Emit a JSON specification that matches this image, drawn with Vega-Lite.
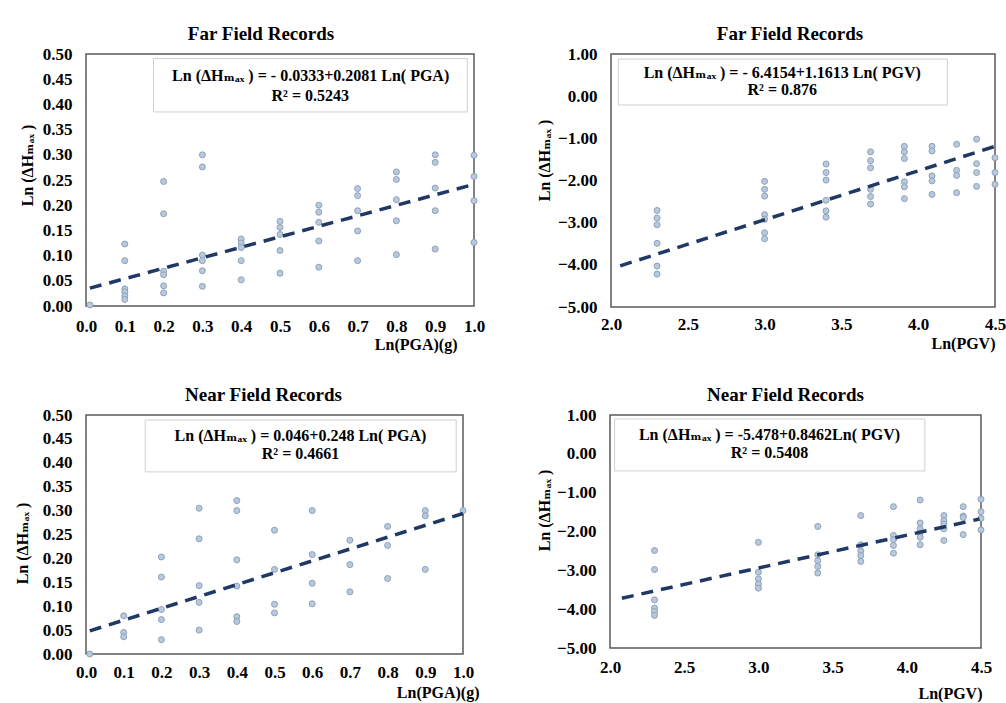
{
  "$schema": "https://vega.github.io/schema/vega-lite/v6.json",
  "background": "white",
  "padding": {"left": 13, "top": 24, "right": 0, "bottom": 0},
  "config": {
    "font": "Liberation Serif, DejaVu Serif, serif",
    "view": {"stroke": "#595959", "strokeWidth": 1.5},
    "axis": {"labelFont": "Liberation Serif, DejaVu Serif, serif", "labelFontWeight": "bold", "labelFontSize": 17, "labelColor": "black", "titleFont": "Liberation Serif, DejaVu Serif, serif", "titleFontWeight": "bold", "titleFontSize": 16, "titleColor": "black", "domain": false, "ticks": false, "grid": false, "labelPadding": 14, "labelFlush": false},
    "title": {"font": "Liberation Serif, DejaVu Serif, serif", "fontSize": 19, "fontWeight": "bold", "color": "black", "offset": 1}
  },
  "datasets": {
    "farPGA": [
      {"x": 0.01, "y": 0.002},
      {"x": 0.1, "y": 0.123}, {"x": 0.1, "y": 0.090}, {"x": 0.1, "y": 0.034}, {"x": 0.1, "y": 0.028}, {"x": 0.1, "y": 0.020}, {"x": 0.1, "y": 0.013},
      {"x": 0.2, "y": 0.247}, {"x": 0.2, "y": 0.183}, {"x": 0.2, "y": 0.069}, {"x": 0.2, "y": 0.062}, {"x": 0.2, "y": 0.040}, {"x": 0.2, "y": 0.026},
      {"x": 0.3, "y": 0.300}, {"x": 0.3, "y": 0.276}, {"x": 0.3, "y": 0.101}, {"x": 0.3, "y": 0.090}, {"x": 0.3, "y": 0.070}, {"x": 0.3, "y": 0.039},
      {"x": 0.4, "y": 0.133}, {"x": 0.4, "y": 0.125}, {"x": 0.4, "y": 0.116}, {"x": 0.4, "y": 0.090}, {"x": 0.4, "y": 0.052},
      {"x": 0.5, "y": 0.168}, {"x": 0.5, "y": 0.156}, {"x": 0.5, "y": 0.142}, {"x": 0.5, "y": 0.110}, {"x": 0.5, "y": 0.065},
      {"x": 0.6, "y": 0.200}, {"x": 0.6, "y": 0.186}, {"x": 0.6, "y": 0.166}, {"x": 0.6, "y": 0.129}, {"x": 0.6, "y": 0.077},
      {"x": 0.7, "y": 0.233}, {"x": 0.7, "y": 0.219}, {"x": 0.7, "y": 0.189}, {"x": 0.7, "y": 0.149}, {"x": 0.7, "y": 0.090},
      {"x": 0.8, "y": 0.266}, {"x": 0.8, "y": 0.251}, {"x": 0.8, "y": 0.211}, {"x": 0.8, "y": 0.169}, {"x": 0.8, "y": 0.102},
      {"x": 0.9, "y": 0.300}, {"x": 0.9, "y": 0.285}, {"x": 0.9, "y": 0.234}, {"x": 0.9, "y": 0.189}, {"x": 0.9, "y": 0.113},
      {"x": 1.0, "y": 0.299}, {"x": 1.0, "y": 0.257}, {"x": 1.0, "y": 0.209}, {"x": 1.0, "y": 0.126}
    ],
    "farPGV": [
      {"x": 2.3, "y": -2.71}, {"x": 2.3, "y": -2.89}, {"x": 2.3, "y": -3.05}, {"x": 2.3, "y": -3.49}, {"x": 2.3, "y": -4.03}, {"x": 2.3, "y": -4.22},
      {"x": 3.0, "y": -2.02}, {"x": 3.0, "y": -2.21}, {"x": 3.0, "y": -2.37}, {"x": 3.0, "y": -2.81}, {"x": 3.0, "y": -2.92}, {"x": 3.0, "y": -3.24}, {"x": 3.0, "y": -3.38},
      {"x": 3.4, "y": -1.61}, {"x": 3.4, "y": -1.81}, {"x": 3.4, "y": -1.99}, {"x": 3.4, "y": -2.47}, {"x": 3.4, "y": -2.72}, {"x": 3.4, "y": -2.87},
      {"x": 3.69, "y": -1.32}, {"x": 3.69, "y": -1.53}, {"x": 3.69, "y": -1.70}, {"x": 3.69, "y": -2.21}, {"x": 3.69, "y": -2.38}, {"x": 3.69, "y": -2.56},
      {"x": 3.91, "y": -1.19}, {"x": 3.91, "y": -1.32}, {"x": 3.91, "y": -1.48}, {"x": 3.91, "y": -2.03}, {"x": 3.91, "y": -2.15}, {"x": 3.91, "y": -2.43},
      {"x": 4.09, "y": -1.19}, {"x": 4.09, "y": -1.30}, {"x": 4.09, "y": -1.89}, {"x": 4.09, "y": -2.01}, {"x": 4.09, "y": -2.33},
      {"x": 4.25, "y": -1.14}, {"x": 4.25, "y": -1.76}, {"x": 4.25, "y": -1.88}, {"x": 4.25, "y": -2.29},
      {"x": 4.38, "y": -1.02}, {"x": 4.38, "y": -1.60}, {"x": 4.38, "y": -1.81}, {"x": 4.38, "y": -2.14},
      {"x": 4.5, "y": -1.46}, {"x": 4.5, "y": -1.81}, {"x": 4.5, "y": -2.09}
    ],
    "nearPGA": [
      {"x": 0.01, "y": 0.0},
      {"x": 0.1, "y": 0.080}, {"x": 0.1, "y": 0.045}, {"x": 0.1, "y": 0.036},
      {"x": 0.2, "y": 0.203}, {"x": 0.2, "y": 0.161}, {"x": 0.2, "y": 0.093}, {"x": 0.2, "y": 0.072}, {"x": 0.2, "y": 0.030},
      {"x": 0.3, "y": 0.305}, {"x": 0.3, "y": 0.241}, {"x": 0.3, "y": 0.143}, {"x": 0.3, "y": 0.108}, {"x": 0.3, "y": 0.050},
      {"x": 0.4, "y": 0.321}, {"x": 0.4, "y": 0.300}, {"x": 0.4, "y": 0.197}, {"x": 0.4, "y": 0.142}, {"x": 0.4, "y": 0.078}, {"x": 0.4, "y": 0.068},
      {"x": 0.5, "y": 0.259}, {"x": 0.5, "y": 0.177}, {"x": 0.5, "y": 0.104}, {"x": 0.5, "y": 0.086},
      {"x": 0.6, "y": 0.300}, {"x": 0.6, "y": 0.208}, {"x": 0.6, "y": 0.148}, {"x": 0.6, "y": 0.105},
      {"x": 0.7, "y": 0.238}, {"x": 0.7, "y": 0.187}, {"x": 0.7, "y": 0.130},
      {"x": 0.8, "y": 0.267}, {"x": 0.8, "y": 0.227}, {"x": 0.8, "y": 0.158},
      {"x": 0.9, "y": 0.300}, {"x": 0.9, "y": 0.289}, {"x": 0.9, "y": 0.177},
      {"x": 1.0, "y": 0.300}
    ],
    "nearPGV": [
      {"x": 2.3, "y": -2.49}, {"x": 2.3, "y": -2.98}, {"x": 2.3, "y": -3.76}, {"x": 2.3, "y": -3.97}, {"x": 2.3, "y": -4.06}, {"x": 2.3, "y": -4.16},
      {"x": 3.0, "y": -2.28}, {"x": 3.0, "y": -3.05}, {"x": 3.0, "y": -3.22}, {"x": 3.0, "y": -3.35}, {"x": 3.0, "y": -3.46},
      {"x": 3.4, "y": -1.87}, {"x": 3.4, "y": -2.60}, {"x": 3.4, "y": -2.75}, {"x": 3.4, "y": -2.90}, {"x": 3.4, "y": -3.07},
      {"x": 3.69, "y": -1.59}, {"x": 3.69, "y": -2.34}, {"x": 3.69, "y": -2.50}, {"x": 3.69, "y": -2.62}, {"x": 3.69, "y": -2.77},
      {"x": 3.91, "y": -1.36}, {"x": 3.91, "y": -2.10}, {"x": 3.91, "y": -2.21}, {"x": 3.91, "y": -2.36}, {"x": 3.91, "y": -2.56},
      {"x": 4.09, "y": -1.19}, {"x": 4.09, "y": -1.78}, {"x": 4.09, "y": -1.93}, {"x": 4.09, "y": -2.04}, {"x": 4.09, "y": -2.15}, {"x": 4.09, "y": -2.34},
      {"x": 4.25, "y": -1.59}, {"x": 4.25, "y": -1.72}, {"x": 4.25, "y": -1.81}, {"x": 4.25, "y": -1.93}, {"x": 4.25, "y": -2.23},
      {"x": 4.38, "y": -1.36}, {"x": 4.38, "y": -1.60}, {"x": 4.38, "y": -1.64}, {"x": 4.38, "y": -2.08},
      {"x": 4.5, "y": -1.17}, {"x": 4.5, "y": -1.49}, {"x": 4.5, "y": -1.66}, {"x": 4.5, "y": -1.96}
    ],
    "trendFarPGA": [{"x": 0.01, "y": 0.0354}, {"x": 1.0, "y": 0.2414}],
    "trendFarPGV": [{"x": 2.06, "y": -4.023}, {"x": 4.5, "y": -1.190}],
    "trendNearPGA": [{"x": 0.01, "y": 0.0485}, {"x": 1.0, "y": 0.294}],
    "trendNearPGV": [{"x": 2.08, "y": -3.718}, {"x": 4.49, "y": -1.679}],
    "boxFarPGA": [{"x": 0.174, "x2": 0.983, "y": 0.491, "y2": 0.385}],
    "boxFarPGV": [{"x": 2.048, "x2": 4.19, "y": 0.88, "y2": -0.21}],
    "boxNearPGA": [{"x": 0.157, "x2": 0.982, "y": 0.4895, "y2": 0.381}],
    "boxNearPGV": [{"x": 2.031, "x2": 4.122, "y": 0.897, "y2": -0.44}],
    "eqFarPGA": [{"x": 0.579, "y": 0.456, "label": "Ln  (ΔHₘₐₓ ) = - 0.0333+0.2081 Ln( PGA)"}, {"x": 0.578, "y": 0.416, "label": "R² = 0.5243"}],
    "eqFarPGV": [{"x": 3.115, "y": 0.56, "label": "Ln  (ΔHₘₐₓ ) = - 6.4154+1.1613 Ln( PGV)"}, {"x": 3.115, "y": 0.145, "label": "R² = 0.876"}],
    "eqNearPGA": [{"x": 0.569, "y": 0.457, "label": "Ln  (ΔHₘₐₓ ) =  0.046+0.248 Ln( PGA)"}, {"x": 0.569, "y": 0.418, "label": "R² = 0.4661"}],
    "eqNearPGV": [{"x": 3.075, "y": 0.486, "label": "Ln  (ΔHₘₐₓ ) =  -5.478+0.8462Ln( PGV)"}, {"x": 3.075, "y": 0.015, "label": "R² = 0.5408"}]
  },
  "columns": 2,
  "align": "none",
  "spacing": {"row": 32, "column": 49},
  "concat": [
    {
      "width": 388, "height": 252,
      "title": {"text": "Far Field Records", "dx": -19},
      "encoding": {
        "x": {"field": "x", "type": "quantitative", "scale": {"domain": [0, 1], "nice": false, "zero": false}, "axis": {"title": "Ln(PGA)(g)", "values": [0, 0.1, 0.2, 0.3, 0.4, 0.5, 0.6, 0.7, 0.8, 0.9, 1.0], "format": ".1f", "labelPadding": 12, "titleAlign": "right", "titleX": 371, "titlePadding": 2}},
        "y": {"field": "y", "type": "quantitative", "scale": {"domain": [0, 0.5], "nice": false, "zero": false}, "axis": {"title": "Ln  (ΔHₘₐₓ )", "values": [0, 0.05, 0.1, 0.15, 0.2, 0.25, 0.3, 0.35, 0.4, 0.45, 0.5], "format": ".2f", "titlePadding": 7, "titleY": 111}}
      },
      "layer": [
        {"data": {"name": "boxFarPGA"}, "mark": {"type": "rect", "fill": "white", "stroke": "#d0d0d0", "strokeWidth": 1}, "encoding": {"x2": {"field": "x2"}, "y2": {"field": "y2"}}},
        {"data": {"name": "farPGA"}, "mark": {"type": "point", "filled": true, "shape": "circle", "size": 36, "fill": "#b8c9dd", "stroke": "#8da2b8", "strokeWidth": 1, "opacity": 1}, "encoding": {}},
        {"data": {"name": "trendFarPGA"}, "mark": {"type": "line", "color": "#1f3864", "strokeWidth": 3.5, "strokeDash": [12, 8]}, "encoding": {}},
        {"data": {"name": "eqFarPGA"}, "mark": {"type": "text", "font": "Liberation Serif, DejaVu Serif, serif", "fontWeight": "bold", "fontSize": 16, "align": "center", "baseline": "middle", "color": "black"}, "encoding": {"text": {"field": "label"}}}
      ]
    },
    {
      "width": 384, "height": 253,
      "title": {"text": "Far Field Records", "dx": -13},
      "encoding": {
        "x": {"field": "x", "type": "quantitative", "scale": {"domain": [2, 4.5], "nice": false, "zero": false}, "axis": {"title": "Ln(PGV)", "values": [2, 2.5, 3, 3.5, 4, 4.5], "format": ".1f", "labelPadding": 9, "titleAlign": "right", "titleX": 384, "titlePadding": 3}},
        "y": {"field": "y", "type": "quantitative", "scale": {"domain": [-5, 1], "nice": false, "zero": false}, "axis": {"title": "Ln  (ΔHₘₐₓ )", "values": [-5, -4, -3, -2, -1, 0, 1], "format": ".2f", "titlePadding": 5, "titleY": 106}}
      },
      "layer": [
        {"data": {"name": "boxFarPGV"}, "mark": {"type": "rect", "fill": "white", "stroke": "#d0d0d0", "strokeWidth": 1}, "encoding": {"x2": {"field": "x2"}, "y2": {"field": "y2"}}},
        {"data": {"name": "farPGV"}, "mark": {"type": "point", "filled": true, "shape": "circle", "size": 36, "fill": "#b8c9dd", "stroke": "#8da2b8", "strokeWidth": 1, "opacity": 1}, "encoding": {}},
        {"data": {"name": "trendFarPGV"}, "mark": {"type": "line", "color": "#1f3864", "strokeWidth": 3.5, "strokeDash": [12, 8]}, "encoding": {}},
        {"data": {"name": "eqFarPGV"}, "mark": {"type": "text", "font": "Liberation Serif, DejaVu Serif, serif", "fontWeight": "bold", "fontSize": 16, "align": "center", "baseline": "middle", "color": "black"}, "encoding": {"text": {"field": "label"}}}
      ]
    },
    {
      "width": 377, "height": 239,
      "title": {"text": "Near Field Records", "dx": -11},
      "encoding": {
        "x": {"field": "x", "type": "quantitative", "scale": {"domain": [0, 1], "nice": false, "zero": false}, "axis": {"title": "Ln(PGA)(g)", "values": [0, 0.1, 0.2, 0.3, 0.4, 0.5, 0.6, 0.7, 0.8, 0.9, 1.0], "format": ".1f", "labelPadding": 10, "titleAlign": "right", "titleX": 393, "titlePadding": 4}},
        "y": {"field": "y", "type": "quantitative", "scale": {"domain": [0, 0.5], "nice": false, "zero": false}, "axis": {"title": "Ln  (ΔHₘₐₓ )", "values": [0, 0.05, 0.1, 0.15, 0.2, 0.25, 0.3, 0.35, 0.4, 0.45, 0.5], "format": ".2f", "titlePadding": 12, "titleY": 128}}
      },
      "layer": [
        {"data": {"name": "boxNearPGA"}, "mark": {"type": "rect", "fill": "white", "stroke": "#d0d0d0", "strokeWidth": 1}, "encoding": {"x2": {"field": "x2"}, "y2": {"field": "y2"}}},
        {"data": {"name": "nearPGA"}, "mark": {"type": "point", "filled": true, "shape": "circle", "size": 36, "fill": "#b8c9dd", "stroke": "#8da2b8", "strokeWidth": 1, "opacity": 1}, "encoding": {}},
        {"data": {"name": "trendNearPGA"}, "mark": {"type": "line", "color": "#1f3864", "strokeWidth": 3.5, "strokeDash": [12, 8]}, "encoding": {}},
        {"data": {"name": "eqNearPGA"}, "mark": {"type": "text", "font": "Liberation Serif, DejaVu Serif, serif", "fontWeight": "bold", "fontSize": 16, "align": "center", "baseline": "middle", "color": "black"}, "encoding": {"text": {"field": "label"}}}
      ]
    },
    {
      "width": 371, "height": 233,
      "title": {"text": "Near Field Records", "dx": -10},
      "encoding": {
        "x": {"field": "x", "type": "quantitative", "scale": {"domain": [2, 4.5], "nice": false, "zero": false}, "axis": {"title": "Ln(PGV)", "values": [2, 2.5, 3, 3.5, 4, 4.5], "format": ".1f", "labelPadding": 11, "titleAlign": "right", "titleX": 372, "titlePadding": 10}},
        "y": {"field": "y", "type": "quantitative", "scale": {"domain": [-5, 1], "nice": false, "zero": false}, "axis": {"title": "Ln  (ΔHₘₐₓ )", "values": [-5, -4, -3, -2, -1, 0, 1], "format": ".2f", "titlePadding": 4, "titleY": 95}}
      },
      "layer": [
        {"data": {"name": "boxNearPGV"}, "mark": {"type": "rect", "fill": "white", "stroke": "#d0d0d0", "strokeWidth": 1}, "encoding": {"x2": {"field": "x2"}, "y2": {"field": "y2"}}},
        {"data": {"name": "nearPGV"}, "mark": {"type": "point", "filled": true, "shape": "circle", "size": 36, "fill": "#b8c9dd", "stroke": "#8da2b8", "strokeWidth": 1, "opacity": 1}, "encoding": {}},
        {"data": {"name": "trendNearPGV"}, "mark": {"type": "line", "color": "#1f3864", "strokeWidth": 3.5, "strokeDash": [12, 8]}, "encoding": {}},
        {"data": {"name": "eqNearPGV"}, "mark": {"type": "text", "font": "Liberation Serif, DejaVu Serif, serif", "fontWeight": "bold", "fontSize": 16, "align": "center", "baseline": "middle", "color": "black"}, "encoding": {"text": {"field": "label"}}}
      ]
    }
  ]
}
